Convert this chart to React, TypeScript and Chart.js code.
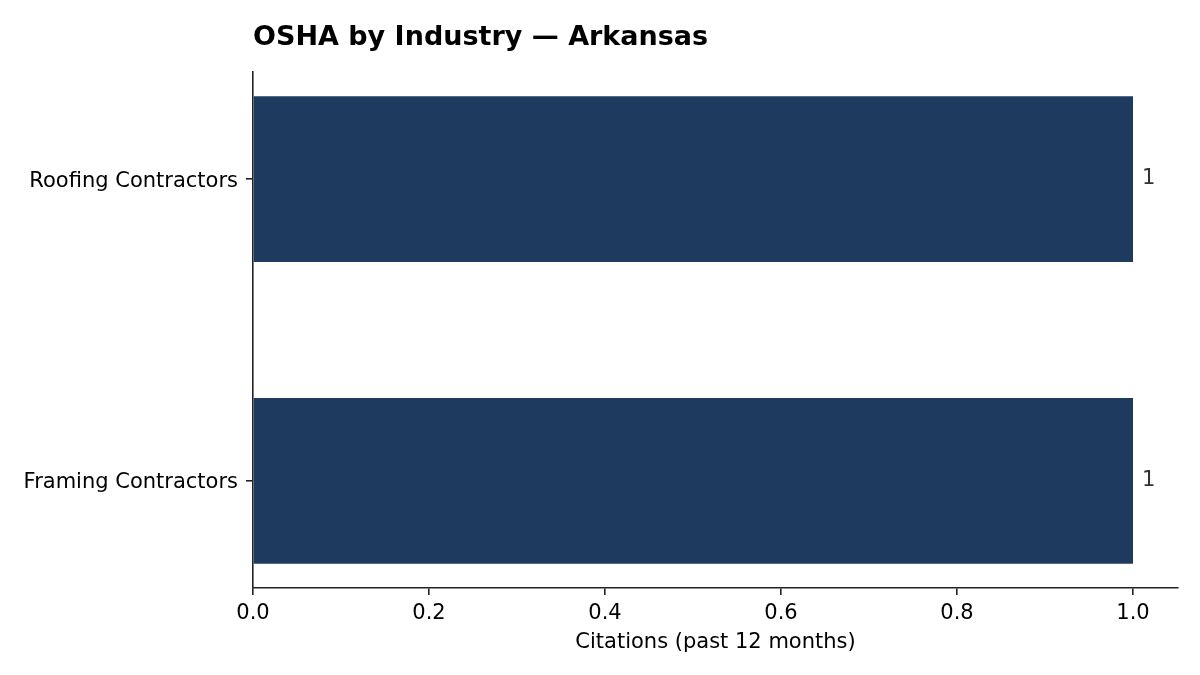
import { useEffect, useRef } from 'react'
import { Chart, registerables } from 'chart.js'

Chart.register(...registerables)

const TITLE = 'OSHA by Industry — Arkansas'
const X_TITLE = 'Citations (past 12 months)'
const INDUSTRIES = ['Framing Contractors', 'Roofing Contractors']
const CITATIONS = [1, 1]
const X_TICKS = [0, 0.2, 0.4, 0.6, 0.8, 1.0]

const FONT = "'DejaVu Sans', sans-serif"
const BAR = '#1f3a5f'
const AXIS = '#222222'
const SIZE = 21

const textPlugin = {
  id: 'textPlugin',
  afterDraw(chart: any) {
    const { ctx, chartArea } = chart
    const xs = chart.scales.x
    const ys = chart.scales.y
    ctx.save()
    ctx.textBaseline = 'alphabetic'
    // title
    ctx.fillStyle = '#000'
    ctx.font = `bold 27px ${FONT}`
    ctx.textAlign = 'left'
    ctx.fillText(TITLE, chartArea.left, 45)
    // x axis title
    ctx.font = `${SIZE}px ${FONT}`
    ctx.textAlign = 'center'
    ctx.fillText(X_TITLE, (chartArea.left + chartArea.right) / 2, 648)
    // value labels
    ctx.fillStyle = '#333'
    ctx.textAlign = 'left'
    CITATIONS.forEach((v, i) => {
      ctx.fillText(String(v), xs.getPixelForValue(v) + 9, ys.getPixelForValue(i) + 5)
    })
    ctx.restore()
  },
}

export default function App() {
  const canvasRef = useRef<HTMLCanvasElement>(null)
  const chartRef = useRef<any>(null)

  useEffect(() => {
    document.body.style.margin = '0'
    if (!canvasRef.current) return
    if (chartRef.current) chartRef.current.destroy()

    chartRef.current = new Chart(canvasRef.current, {
      type: 'bar',
      data: {
        datasets: [
          {
            label: 'Citations',
            data: CITATIONS.map((v, i) => ({ x: v, y: i })),
            backgroundColor: BAR,
            barPercentage: 0.55,
            categoryPercentage: 1,
          },
        ],
      },
      plugins: [textPlugin],
      options: {
        indexAxis: 'y',
        animation: false,
        responsive: true,
        maintainAspectRatio: false,
        layout: { padding: { top: 72, right: 22, left: 0, bottom: 0 } },
        plugins: { legend: { display: false }, tooltip: { enabled: false }, title: { display: false } },
        scales: {
          x: {
            type: 'linear',
            min: 0,
            max: 1.0511,
            afterBuildTicks: (scale: any) => { scale.ticks = X_TICKS.map(v => ({ value: v })) },
            afterFit: (scale: any) => { scale.height = 87 },
            ticks: {
              color: '#000',
              font: { family: FONT, size: SIZE },
              padding: 6,
              maxRotation: 0,
              callback: (v: string | number) => Number(v).toFixed(1),
            },
            grid: { drawOnChartArea: false, drawTicks: true, tickLength: 7, color: AXIS, lineWidth: 1.6 },
            border: { display: true, color: AXIS, width: 1.6 },
          },
          y: {
            type: 'linear',
            offset: false,
            min: -0.355,
            max: 1.355,
            afterBuildTicks: (scale: any) => { scale.ticks = INDUSTRIES.map((_, i) => ({ value: i })) },
            afterFit: (scale: any) => { scale.width = 253 },
            ticks: {
              color: '#000',
              font: { family: FONT, size: SIZE },
              padding: 8,
              labelOffset: 2,
              callback: (v: string | number) => INDUSTRIES[Number(v)] ?? '',
            },
            grid: { offset: false, drawOnChartArea: false, drawTicks: true, tickLength: 7, color: AXIS, lineWidth: 1.6 },
            border: { display: true, color: AXIS, width: 1.6 },
          },
        },
      },
    } as any)

    return () => { if (chartRef.current) chartRef.current.destroy() }
  }, [])

  return (
    <div style={{ width: 1200, height: 675, position: 'relative', background: '#fff' }}>
      <canvas ref={canvasRef} />
    </div>
  )
}
